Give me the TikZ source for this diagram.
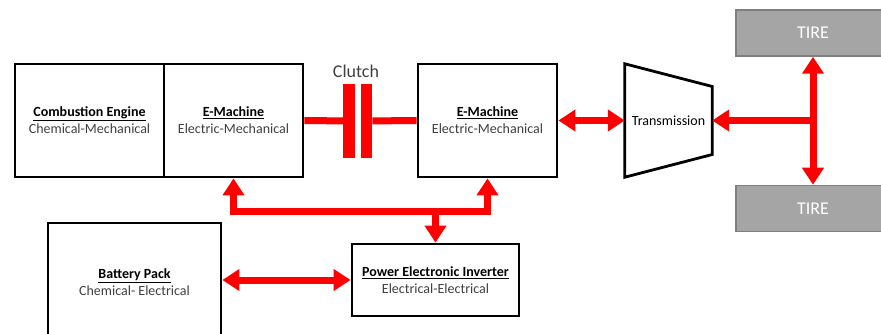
\documentclass[tikz,border=0pt]{standalone}
\usepackage{fontspec}
\setmainfont{Carlito}
\usepackage{xcolor}
\usetikzlibrary{positioning, arrows.meta, calc}
\definecolor{subgray}{HTML}{404040}
\definecolor{tirefill}{HTML}{A5A5A5}
\definecolor{tireline}{HTML}{7F7F7F}
\newcommand{\blocktext}[2]{\underline{\textbf{#1}}\\{\color{subgray}#2}}

\begin{document}
\begin{tikzpicture}[
    x=1pt, y=-1pt,
    node distance=0pt,
    block/.style={rectangle, draw=black, line width=2.8pt, fill=white, align=center, inner sep=0pt, font=\fontsize{14}{17}\selectfont},
    tire/.style={rectangle, draw=tireline, line width=1.5pt, fill=tirefill, text=white, minimum width=154pt, minimum height=46pt, font=\fontsize{18}{20}\selectfont},
    plate/.style={rectangle, fill=red, inner sep=0pt, minimum width=11.5pt, minimum height=74pt},
    link/.style={draw=red, line width=7pt},
    arr/.style={link, -{Triangle[length=17pt, width=21pt]}},
    dbl/.style={link, {Triangle[length=17pt, width=21pt]}-{Triangle[length=17pt, width=21pt]}},
]
\useasboundingbox (0,0) rectangle (881,334);
\clip (0,0) rectangle (881,334);
% engine and the two e-machines
\node[block, minimum width=149pt, minimum height=113pt] (engine) at (89.5,120.5) {\blocktext{Combustion Engine}{Chemical-Mechanical}};
\node[block, minimum width=139pt, minimum height=113pt] (em1) at (233.5,120.5) {\blocktext{E-Machine}{Electric-Mechanical}};
\node[block, minimum width=139pt, minimum height=113pt] (em2) at (487.5,120.5) {\blocktext{E-Machine}{Electric-Mechanical}};
% clutch
\node[plate] (p1) at (349,121) {};
\node[plate] (p2) at (366.5,121) {};
\node[font=\fontsize{18}{20}\selectfont, text=subgray] (clutch) at (356,71) {Clutch};
% transmission
\node[minimum width=87pt, minimum height=113pt, inner sep=0pt, font=\fontsize{14}{17}\selectfont] (trans) at (668.5,120.5) {Transmission};
\draw[line width=2.8pt, line join=miter] (trans.north west) -- ($(trans.north east)!0.2!(trans.south east)$) -- ($(trans.north east)!0.8!(trans.south east)$) -- (trans.south west) -- cycle;
% tires
\node[tire] (tireT) at (813,33) {TIRE};
\node[tire] (tireB) at (813,208.5) {TIRE};
\coordinate (hub) at (tireT |- trans);
% battery and inverter
\node[block, minimum width=173pt, minimum height=118pt] (bat) at (134.5,282) {\blocktext{Battery Pack}{Chemical- Electrical}};
\node[block, minimum width=167pt, minimum height=72pt] (inv) at (435.5,280) {\blocktext{Power Electronic Inverter}{Electrical-Electrical}};
\coordinate (bus) at (inv.north |- 0,211);

\draw[link] (em1.east) -- (p1); \draw[link] (p2) -- (em2.west);
\draw[dbl] (em2.east) -- (trans.west);
\draw[arr] (hub) -- (trans.east);
\draw[dbl] (tireT) -- (tireB);
\draw[dbl] (em1.south) |- (bus) -| (em2.south);
\draw[arr] (bus) -- (inv.north);
\draw[dbl] (bat.east |- inv) -- (inv.west);
\end{tikzpicture}
\end{document}
